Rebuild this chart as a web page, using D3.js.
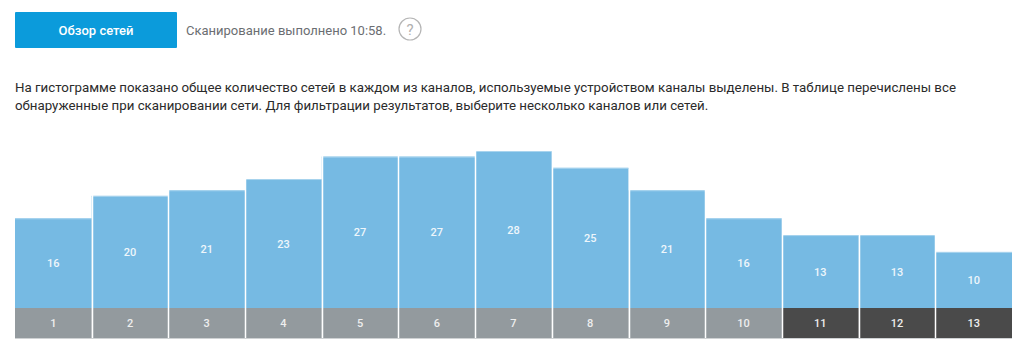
<!DOCTYPE html>
<html>
<head>
<meta charset="utf-8">
<style>
  body { margin: 0; background: #fff; font-family: Roboto, "Noto Sans", sans-serif; }
</style>
</head>
<body>
<svg id="chart" width="1024" height="354"></svg>

<script src="https://d3js.org/d3.v7.min.js"></script>
<script>
  // data
  var channels = ["1", "2", "3", "4", "5", "6", "7", "8", "9", "10", "11", "12", "13"];
  var networks = [16, 20, 21, 23, 27, 27, 28, 25, 21, 16, 13, 13, 10];
  var usedChannels = ["11", "12", "13"];

  var buttonLabel = "Обзор сетей";
  var statusText = "Сканирование выполнено 10:58.";
  var introLines = [
    "На гистограмме показано общее количество сетей в каждом из каналов, используемые устройством каналы выделены. В таблице перечислены все",
    "обнаруженные при сканировании сети. Для фильтрации результатов, выберите несколько каналов или сетей."
  ];

  var svg = d3.select("#chart");

  // header: button, status, help icon
  svg.append("rect")
    .attr("x", 15).attr("y", 12).attr("width", 162).attr("height", 36)
    .attr("rx", 1)
    .style("fill", "#0b9bdb");
  svg.append("text")
    .attr("x", 96).attr("y", 35)
    .attr("text-anchor", "middle")
    .style("font-size", "13px").style("font-weight", 500)
    .style("fill", "#fff")
    .text(buttonLabel);
  svg.append("text")
    .attr("x", 186).attr("y", 35)
    .style("font-size", "13px")
    .style("fill", "#6b6e72")
    .text(statusText);
  svg.append("circle")
    .attr("cx", 410).attr("cy", 29).attr("r", 11)
    .style("fill", "none").style("stroke", "#b5b5b5").style("stroke-width", 1.2);
  svg.append("text")
    .attr("x", 410).attr("y", 35)
    .attr("text-anchor", "middle")
    .style("font-size", "15px")
    .style("fill", "#b0b0b0")
    .text("?");

  // paragraph
  svg.selectAll("text.intro")
    .data(introLines)
    .enter()
    .append("text")
    .attr("class", "intro")
    .attr("x", 15)
    .attr("y", function (d, i) { return 92 + i * 18; })
    .style("font-size", "13.3px")
    .style("fill", "#2b2b2b")
    .text(function (d) { return d; });

  // scales
  var x = d3.scaleBand()
    .domain(channels)
    .range([15, 1012])
    .padding(0);

  var y = d3.scaleLinear()
    .domain([0, 28])
    .range([308, 151]);

  var stripTop = 308, stripBottom = 338;

  // bars
  var bars = svg.append("g");
  bars.selectAll("rect")
    .data(channels)
    .enter()
    .append("rect")
    .attr("x", function (d) { return x(d); })
    .attr("y", function (d, i) { return y(networks[i]); })
    .attr("width", x.bandwidth())
    .attr("height", function (d, i) { return y(0) - y(networks[i]); })
    .style("fill", "#76bae3");

  // lighter top edge
  bars.selectAll("line.top")
    .data(channels)
    .enter()
    .append("line")
    .attr("class", "top")
    .attr("x1", function (d) { return x(d); })
    .attr("x2", function (d) { return x(d) + x.bandwidth(); })
    .attr("y1", function (d, i) { return y(networks[i]) + 0.5; })
    .attr("y2", function (d, i) { return y(networks[i]) + 0.5; })
    .style("stroke", "#a9d4ee").style("stroke-width", 1);

  // channel strip
  svg.append("g").selectAll("rect")
    .data(channels)
    .enter()
    .append("rect")
    .attr("x", function (d) { return x(d); })
    .attr("y", stripTop)
    .attr("width", x.bandwidth())
    .attr("height", stripBottom - stripTop)
    .style("fill", function (d) { return usedChannels.indexOf(d) >= 0 ? "#4a4a4a" : "#939a9e"; });

  svg.append("line")
    .attr("x1", 15).attr("x2", 1012)
    .attr("y1", stripBottom + 0.5).attr("y2", stripBottom + 0.5)
    .style("stroke", "#cfd2d4").style("stroke-width", 1);

  // white separators between columns
  svg.append("g").selectAll("line")
    .data(channels.slice(1))
    .enter()
    .append("line")
    .attr("x1", function (d) { return Math.round(x(d)) + 0.5; })
    .attr("x2", function (d) { return Math.round(x(d)) + 0.5; })
    .attr("y1", 140)
    .attr("y2", stripBottom)
    .style("stroke", "#fff").style("stroke-width", 1.5);

  // value labels
  svg.append("g").selectAll("text")
    .data(channels)
    .enter()
    .append("text")
    .attr("x", function (d) { return x(d) + x.bandwidth() / 2; })
    .attr("y", function (d, i) { return (y(networks[i]) + y(0)) / 2 + 4; })
    .attr("text-anchor", "middle")
    .style("font-size", "11px").style("font-weight", 500)
    .style("fill", "#eef6fb")
    .text(function (d, i) { return networks[i]; });

  // channel labels
  svg.append("g").selectAll("text")
    .data(channels)
    .enter()
    .append("text")
    .attr("x", function (d) { return x(d) + x.bandwidth() / 2; })
    .attr("y", (stripTop + stripBottom) / 2 + 4)
    .attr("text-anchor", "middle")
    .style("font-size", "11px").style("font-weight", 500)
    .style("fill", "#eeeeee")
    .text(function (d) { return d; });
</script>
</body>
</html>
